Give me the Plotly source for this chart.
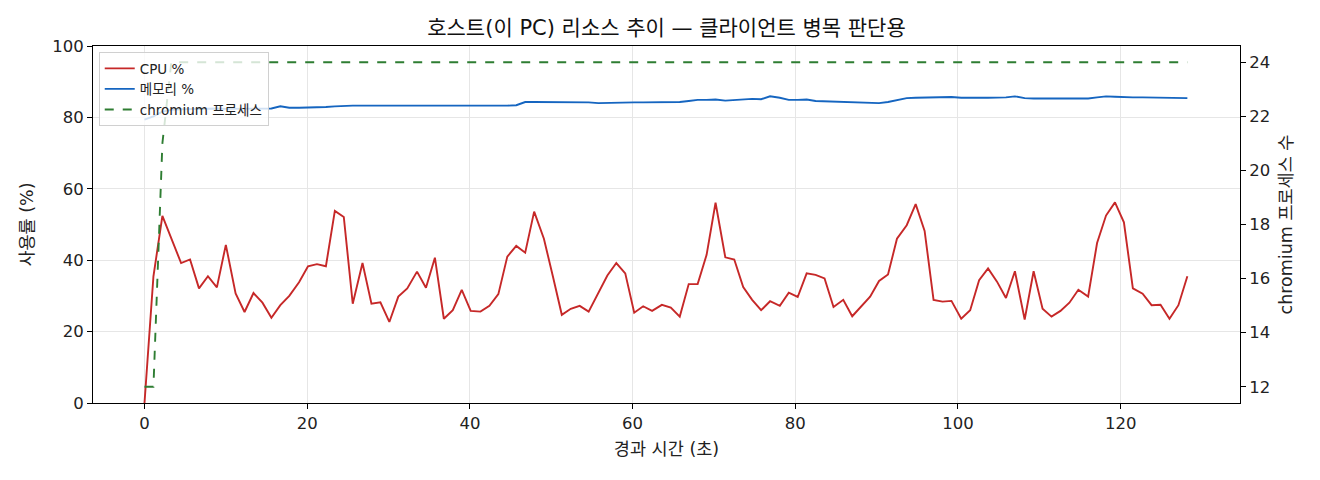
import plotly.graph_objects as go

# sample times (s)
elapsed_s = [
    0.0, 1.1, 2.2, 3.3, 4.5, 5.6, 6.7, 7.8, 8.9, 10.0, 11.2, 12.3, 13.4, 14.5, 15.6, 16.7,
    17.8, 19.0, 20.1, 21.2, 22.3, 23.4, 24.5, 25.6, 26.8, 27.9, 29.0, 30.1, 31.2, 32.3,
    33.5, 34.6, 35.7, 36.8, 37.9, 39.0, 40.1, 41.3, 42.4, 43.5, 44.6, 45.7, 46.8, 47.9,
    49.1, 50.2, 51.3, 52.4, 53.5, 54.6, 55.8, 56.9, 58.0, 59.1, 60.2, 61.3, 62.4, 63.6,
    64.7, 65.8, 66.9, 68.0, 69.1, 70.2, 71.4, 72.5, 73.6, 74.7, 75.8, 76.9, 78.1, 79.2,
    80.3, 81.4, 82.5, 83.6, 84.7, 85.9, 87.0, 88.1, 89.2, 90.3, 91.4, 92.5, 93.7, 94.8,
    95.9, 97.0, 98.1, 99.2, 100.4, 101.5, 102.6, 103.7, 104.8, 105.9, 107.0, 108.2,
    109.3, 110.4, 111.5, 112.6, 113.7, 114.8, 116.0, 117.1, 118.2, 119.3, 120.4, 121.5,
    122.7, 123.8, 124.9, 126.0, 127.1, 128.2,
]

cpu_pct = [
    0.0, 35.5, 52.4, 46.0, 39.2, 40.2, 32.1, 35.5, 32.4, 44.3, 30.7, 25.5, 30.8, 28.1,
    23.9, 27.4, 30.0, 33.8, 38.3, 38.9, 38.3, 53.8, 52.1, 27.8, 39.2, 27.8, 28.2, 22.7,
    29.8, 32.1, 36.8, 32.3, 40.7, 23.6, 26.0, 31.7, 25.8, 25.6, 27.2, 30.5, 41.0, 44.0,
    42.1, 53.6, 46.0, 35.5, 24.7, 26.4, 27.2, 25.6, 30.9, 35.7, 39.2, 36.3, 25.3, 27.1,
    25.8, 27.5, 26.7, 24.2, 33.3, 33.3, 41.5, 56.1, 40.8, 40.2, 32.5, 28.9, 26.0, 28.5,
    27.2, 30.9, 29.7, 36.3, 35.9, 34.9, 26.9, 28.9, 24.3, 26.9, 29.8, 34.2, 36.0, 46.0,
    49.8, 55.7, 48.2, 28.9, 28.4, 28.6, 23.6, 26.0, 34.4, 37.7, 34.0, 29.4, 36.9, 23.4,
    36.9, 26.4, 24.2, 25.8, 28.1, 31.7, 29.8, 44.8, 52.5, 56.2, 50.6, 32.1, 30.6, 27.4,
    27.5, 23.6, 27.4, 35.5,
]

mem_pct = [
    79.4, 80.3, 81.6, 82.1, 82.3, 82.4, 82.4, 82.5, 82.5, 82.4, 82.4, 82.5, 82.4, 82.4,
    82.5, 83.1, 82.7, 82.7, 82.7, 82.8, 82.9, 83.1, 83.3, 83.3, 83.3, 83.3, 83.3, 83.3,
    83.3, 83.2, 83.2, 83.2, 83.3, 83.3, 83.3, 83.3, 83.1, 83.1, 83.1, 83.2, 83.3, 83.4,
    84.3, 84.3, 84.3, 84.3, 84.2, 84.2, 84.2, 84.2, 84.0, 84.1, 84.2, 84.3, 84.2, 84.2,
    84.2, 84.2, 84.2, 84.3, 84.6, 84.9, 84.9, 85.0, 84.7, 84.9, 85.1, 85.2, 85.1, 85.9,
    85.5, 84.9, 84.9, 85.0, 84.6, 84.5, 84.4, 84.3, 84.1, 84.0, 84.0, 84.0, 84.3, 84.9,
    85.4, 85.5, 85.6, 85.6, 85.6, 85.7, 85.5, 85.4, 85.5, 85.5, 85.5, 85.6, 85.9, 85.4,
    85.3, 85.3, 85.3, 85.2, 85.2, 85.2, 85.3, 85.6, 85.9, 85.8, 85.6, 85.6, 85.6, 85.6,
    85.5, 85.5, 85.5, 85.4,
]

chromium_procs = [
    12, 12, 21, 24, 24, 24, 24, 24, 24, 24, 24, 24, 24, 24, 24, 24, 24, 24, 24, 24,
    24, 24, 24, 24, 24, 24, 24, 24, 24, 24, 24, 24, 24, 24, 24, 24, 24, 24, 24, 24,
    24, 24, 24, 24, 24, 24, 24, 24, 24, 24, 24, 24, 24, 24, 24, 24, 24, 24, 24, 24,
    24, 24, 24, 24, 24, 24, 24, 24, 24, 24, 24, 24, 24, 24, 24, 24, 24, 24, 24, 24,
    24, 24, 24, 24, 24, 24, 24, 24, 24, 24, 24, 24, 24, 24, 24, 24, 24, 24, 24, 24,
    24, 24, 24, 24, 24, 24, 24, 24, 24, 24, 24, 24, 24, 24, 24, 24,
]

FONT = 'DejaVu Sans, Noto Sans CJK KR, sans-serif'

# the page body adds an 8px margin, so the figure is 8px smaller on each side
W, H = 1312, 472

fig = go.Figure()
fig.add_trace(go.Scatter(x=elapsed_s, y=cpu_pct, name='CPU %', mode='lines',
                         line=dict(color='#c62828', width=1.9)))
fig.add_trace(go.Scatter(x=elapsed_s, y=mem_pct, name='메모리 %', mode='lines',
                         line=dict(color='#1565c0', width=1.9)))
fig.add_trace(go.Scatter(x=elapsed_s, y=chromium_procs, name='chromium 프로세스', mode='lines',
                         yaxis='y2', line=dict(color='#2e7d32', width=1.9, dash='dash')))

axis_common = dict(showline=True, linecolor='black', linewidth=1,
                   ticks='outside', ticklen=5, tickcolor='black',
                   tickfont=dict(size=16.5, color='#222'),
                   zeroline=False, automargin=False)

fig.update_layout(
    width=W, height=H,
    paper_bgcolor='white', plot_bgcolor='white',
    margin=dict(l=85, r=80, t=38, b=77),
    font=dict(family=FONT, size=14, color='#222'),
    title=dict(text='호스트(이 PC) 리소스 추이 — 클라이언트 병목 판단용',
               x=0.5, xref='paper', y=1 - 20 / H, yref='container',
               xanchor='center', yanchor='middle', font=dict(size=21, color='#111')),
    showlegend=True,
    legend=dict(x=0.005, y=0.983, xanchor='left', yanchor='top',
                bgcolor='rgba(255,255,255,0.8)', bordercolor='#d0d0d0', borderwidth=1,
                font=dict(size=13.5), itemwidth=30, tracegroupgap=0),
    xaxis=dict(range=[-6.33, 134.67], tickvals=[0, 20, 40, 60, 80, 100, 120],
               title=dict(text='경과 시간 (초)', standoff=10, font=dict(size=17.5)),
               mirror=True, showgrid=True, gridcolor='#e6e6e6', **axis_common),
    yaxis=dict(range=[0, 100], tickvals=[0, 20, 40, 60, 80, 100],
               title=dict(text='사용률 (%)', standoff=14, font=dict(size=17.5)),
               showgrid=True, gridcolor='#e6e6e6', **axis_common),
    yaxis2=dict(range=[11.4, 24.6], tickvals=[12, 14, 16, 18, 20, 22, 24],
                title=dict(text='chromium 프로세스 수', standoff=10, font=dict(size=17.5)),
                overlaying='y', side='right', showgrid=False, **axis_common),
)

fig.write_html('out.html')
